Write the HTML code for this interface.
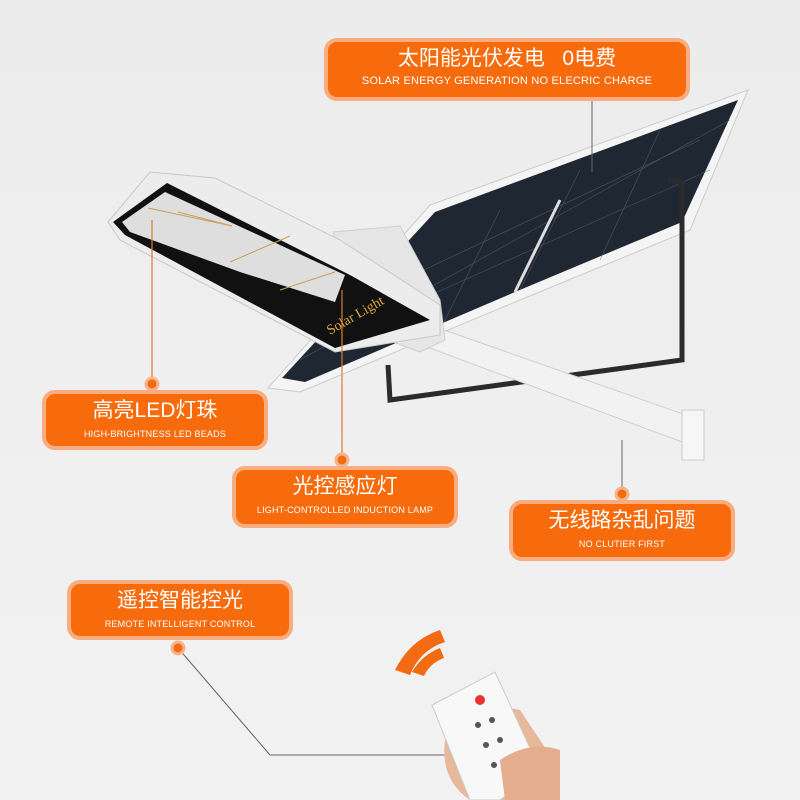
<!DOCTYPE html>
<html><head><meta charset="utf-8"><style>
body{margin:0;width:800px;height:800px;overflow:hidden;background:linear-gradient(180deg,#ececec,#f2f2f2);font-family:"Liberation Sans","Noto Sans CJK SC",sans-serif}
.lb{position:absolute;background:#f76b0c;border:4px solid #f8ad80;border-radius:13px;color:#fff;text-align:center;box-sizing:border-box}
.lb .t{font-size:21px;line-height:24px;margin-top:5px}
.lb .s{font-size:9px;letter-spacing:.2px;margin-top:6px}
.big .s{font-size:11px;margin-top:4px}
</style></head><body>
<svg width="800" height="800" style="position:absolute;left:0;top:0">
<!-- solar panel -->
<polygon points="268,388 430,205 748,90 690,230 520,300 300,392" fill="#f4f4f4" stroke="#ccc"/>
<polygon points="282,378 435,212 738,100 682,222 515,292 305,382" fill="#1f2733"/>
<g stroke="#5d6878" stroke-width="0.6" opacity=".7">
<line x1="300" y1="360" x2="730" y2="120"/><line x1="330" y1="340" x2="710" y2="170"/>
<line x1="360" y1="300" x2="700" y2="140"/><line x1="440" y1="330" x2="500" y2="210"/>
<line x1="520" y1="290" x2="580" y2="170"/><line x1="600" y1="260" x2="660" y2="130"/>
</g>
<line x1="515" y1="292" x2="560" y2="200" stroke="#ddd" stroke-width="3"/>
<!-- bracket -->
<polyline points="668,180 682,182 682,360 390,400 388,365" fill="none" stroke="#2b2b2b" stroke-width="5"/>
<!-- pole -->
<polygon points="395,335 410,318 700,420 690,445" fill="#f2f2f2" stroke="#cfcfcf"/>
<rect x="682" y="410" width="22" height="50" fill="#f6f6f6" stroke="#ccc"/>
<!-- lamp head -->
<polygon points="333,232 400,226 440,300 445,340 420,352 360,330" fill="#e6e6e6" stroke="#cfcfcf"/>
<polygon points="108,222 150,172 215,178 340,240 440,305 440,335 335,352 120,240" fill="#ececec" stroke="#c8c8c8"/>
<polygon points="113,222 167,183 350,275 430,320 335,348 125,235" fill="#111"/>
<polygon points="122,222 165,192 345,275 335,302 240,272 130,232" fill="#dedede"/>
<g stroke="#c9a05a" stroke-width="1"><line x1="148" y1="208" x2="232" y2="226"/><line x1="178" y1="212" x2="232" y2="226"/><line x1="230" y1="262" x2="290" y2="236"/><line x1="280" y1="290" x2="335" y2="272"/></g>
<text x="330" y="335" fill="#d9a93a" font-size="14" font-family="Liberation Serif" transform="rotate(-30 330 335)">Solar Light</text>
<!-- connectors -->
<g stroke="#e07a2a" stroke-width="1.2" fill="none">
<line x1="152" y1="220" x2="152" y2="384"/>
<line x1="342" y1="290" x2="342" y2="460"/>
</g>
<g stroke="#666" stroke-width="1" fill="none">
<line x1="592" y1="100" x2="592" y2="172"/>
<line x1="622" y1="440" x2="622" y2="494"/>
<polyline points="178,648 270,755 520,755"/>
</g>
<g fill="#f26a12" stroke="#f7b48a" stroke-width="3">
<circle cx="152" cy="384" r="6"/><circle cx="342" cy="460" r="6"/>
<circle cx="622" cy="494" r="6"/><circle cx="178" cy="648" r="6"/>
</g>
<!-- signal waves -->
<path d="M395,670 Q410,640 440,630 L445,642 Q420,650 410,675Z" fill="#f26a12"/>
<path d="M412,672 Q422,655 440,648 L444,658 Q430,663 424,676Z" fill="#f26a12"/>
<!-- hand + remote -->
<path d="M445,740 Q470,700 520,710 L560,770 L560,800 L470,800 Q440,780 445,740Z" fill="#e8b89a"/>
<polygon points="432,705 495,672 540,770 500,800 470,800" fill="#f8f8f8" stroke="#ccc"/>
<circle cx="480" cy="700" r="5" fill="#e33"/>
<g fill="#555"><circle cx="478" cy="725" r="3"/><circle cx="492" cy="720" r="3"/><circle cx="486" cy="745" r="3"/><circle cx="500" cy="740" r="3"/><circle cx="494" cy="765" r="3"/><circle cx="508" cy="760" r="3"/></g>
<path d="M500,760 Q530,740 560,750 L560,800 L505,800Z" fill="#e3ad8e"/>
</svg>
<div class="lb big" style="left:324px;top:38px;width:366px;height:63px"><div class="t">太阳能光伏发电&nbsp;&nbsp;&nbsp;0电费</div><div class="s">SOLAR ENERGY GENERATION NO ELECRIC CHARGE</div></div>
<div class="lb" style="left:42px;top:390px;width:226px;height:60px"><div class="t">高亮LED灯珠</div><div class="s">HIGH-BRIGHTNESS LED BEADS</div></div>
<div class="lb" style="left:232px;top:466px;width:226px;height:62px"><div class="t">光控感应灯</div><div class="s">LIGHT-CONTROLLED INDUCTION LAMP</div></div>
<div class="lb" style="left:509px;top:500px;width:226px;height:61px"><div class="t">无线路杂乱问题</div><div class="s">NO CLUTIER FIRST</div></div>
<div class="lb" style="left:67px;top:580px;width:226px;height:60px"><div class="t">遥控智能控光</div><div class="s">REMOTE INTELLIGENT CONTROL</div></div>
</body></html>
